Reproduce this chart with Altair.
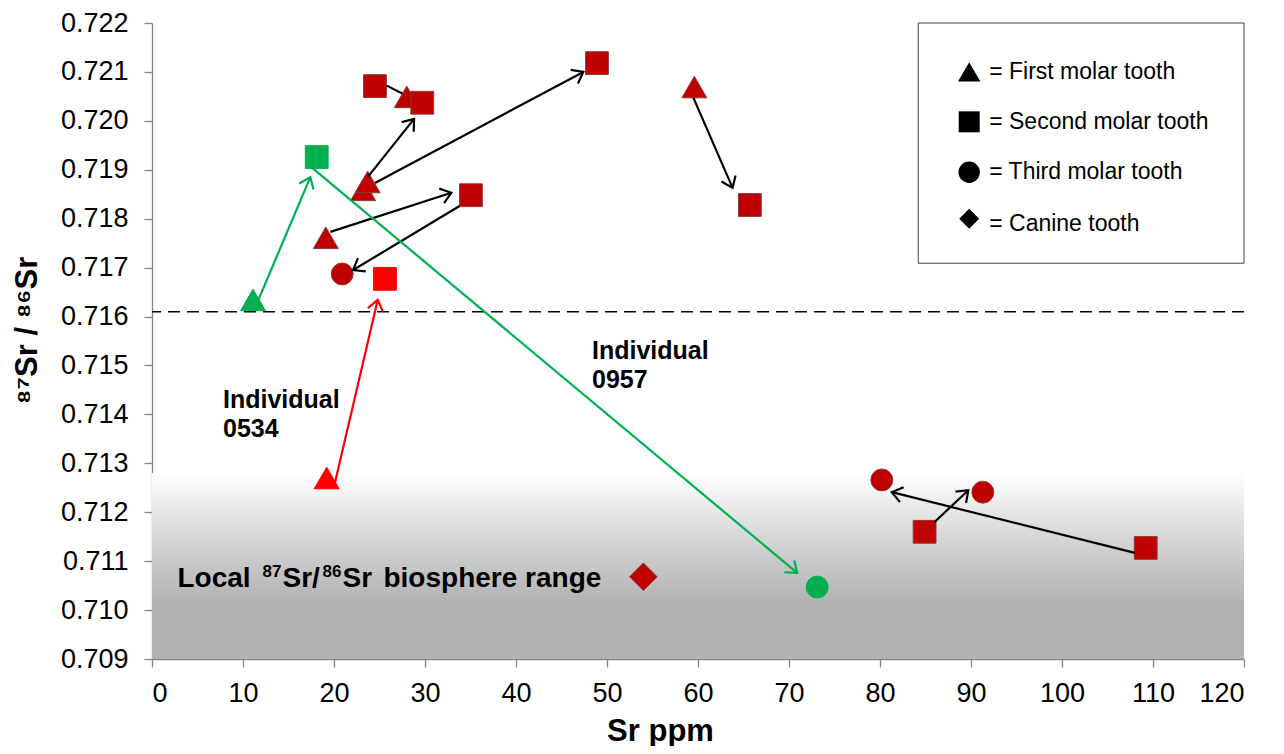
import math
import altair as alt
import pandas as pd

# ---------------- data ----------------
sr_ppm = [24.5, 28.0, 29.7, 48.9, 23.2, 23.7, 19.1, 35.05, 20.9,
          25.6, 18.1, 11.1, 19.2, 73.1,
          54.0, 59.6, 65.7, 80.2, 91.3, 84.9, 109.2]
sr_ratio = [0.72071, 0.72049, 0.72037, 0.72118, 0.71859, 0.71875, 0.71761, 0.71848, 0.71687,
            0.71677, 0.71926, 0.71634, 0.71270, 0.71047,
            0.71068, 0.72069, 0.71828, 0.71266, 0.71241, 0.71160, 0.71127]
tooth = ["Second molar", "First molar", "Second molar", "Second molar", "First molar",
         "First molar", "First molar", "Second molar", "Third molar",
         "Second molar", "Second molar", "First molar", "First molar", "Third molar",
         "Canine", "First molar", "Second molar", "Third molar", "Third molar",
         "Second molar", "Second molar"]
individual = ["Other"] * 9 + ["0534", "0957", "0957", "0534", "0957"] + ["Other"] * 7

arrow_x_start = [25.8, 23.7, 24.5, 19.6, 33.8, 11.6, 17.6, 20.1, 59.5, 86.0, 108.0]
arrow_y_start = [0.72072, 0.71885, 0.71873, 0.71773, 0.71826, 0.71630, 0.71904, 0.71260, 0.72047, 0.71180, 0.71117]
arrow_x_end = [27.5, 28.8, 47.4, 32.9, 22.1, 17.4, 70.9, 24.8, 63.8, 89.7, 81.3]
arrow_y_end = [0.72056, 0.72004, 0.72100, 0.71853, 0.71695, 0.71885, 0.71076, 0.71634, 0.71863, 0.71245, 0.71241]
arrow_individual = ["Other"] * 5 + ["0957", "0957", "0534"] + ["Other"] * 3
arrow_has_head = [False] + [True] * 10

biosphere_range = [0.709, 0.7128]
local_threshold = [0.7161]

legend_teeth = ["First molar", "Second molar", "Third molar", "Canine"]
legend_labels = ["= First molar tooth", "= Second molar tooth", "= Third molar tooth", "= Canine tooth"]

individual_domain = ["Other", "0534", "0957"]
tooth_domain = ["First molar", "Second molar", "Third molar", "Canine"]

individual_labels = ["Individual\n0534", "Individual\n0957"]
local_label_parts = ["Local", "87", "Sr/", "86", "Sr", "biosphere range"]
local_label_is_sup = [False, True, False, True, False, False]

# ---------------- layout ----------------
W, H = 1092, 636
X_MIN, X_MAX = 0, 120
Y_MIN, Y_MAX = 0.709, 0.722
SX = W / (X_MAX - X_MIN)
SY = H / (Y_MAX - Y_MIN)
FONT = "Liberation Sans"
SHAPES = ["triangle-up", "square", "circle", "diamond"]

points = pd.DataFrame({"sr": sr_ppm, "ratio": sr_ratio, "tooth": tooth, "individual": individual})

angles = []
for x0, y0, x1, y1 in zip(arrow_x_start, arrow_y_start, arrow_x_end, arrow_y_end):
    angles.append(math.degrees(math.atan2(-(y1 - y0) * SY, (x1 - x0) * SX)) % 360)
arrows = pd.DataFrame({"x0": arrow_x_start, "y0": arrow_y_start, "x1": arrow_x_end,
                       "y1": arrow_y_end, "arrow_of": arrow_individual,
                       "head": arrow_has_head, "angle": angles})

xs = alt.Scale(domain=[X_MIN, X_MAX], nice=False, zero=False)
ys = alt.Scale(domain=[Y_MIN, Y_MAX], nice=False, zero=False)

x_axis = alt.Axis(values=list(range(0, 121, 10)), title="Sr ppm", titleX=508,
                  titlePadding=10, labelPadding=13)
y_axis = alt.Axis(values=[round(0.709 + i * 0.001, 3) for i in range(14)], format=".3f",
                  title="⁸⁷Sr / ⁸⁶Sr", titleY=307, titleX=-109, titleBaseline="bottom",
                  labelPadding=16)

# gradient local range
bio_df = pd.DataFrame({"lo": [biosphere_range[0]], "hi": [biosphere_range[1]],
                       "xa": [X_MIN], "xb": [X_MAX]})
gradient = alt.Chart(bio_df).mark_rect(
    color=alt.Gradient(gradient="linear",
                       stops=[alt.GradientStop(color="#ffffff", offset=0),
                              alt.GradientStop(color="#d6d6d6", offset=0.35),
                              alt.GradientStop(color="#b2b2b2", offset=0.7),
                              alt.GradientStop(color="#b2b2b2", offset=1)],
                       x1=0, x2=0, y1=0, y2=1)
).encode(
    x=alt.X("xa:Q", scale=xs, axis=x_axis),
    x2="xb:Q",
    y=alt.Y("hi:Q", scale=ys, axis=y_axis),
    y2="lo:Q",
)

thr_df = pd.DataFrame({"t": local_threshold})
dashed = alt.Chart(thr_df).mark_rule(color="#000000", strokeDash=[12, 7], strokeWidth=1.5).encode(
    y=alt.Y("t:Q", scale=ys)
)

# legend box
box_df = pd.DataFrame({"xa": [84.2], "xb": [120], "ya": [0.71709], "yb": [0.722]})
legend_box = alt.Chart(box_df).mark_rect(fill="#ffffff", stroke="#404040", strokeWidth=1).encode(
    x=alt.X("xa:Q", scale=xs), x2="xb:Q", y=alt.Y("ya:Q", scale=ys), y2="yb:Q"
)
leg_df = pd.DataFrame({"tooth": legend_teeth, "label": legend_labels,
                       "lx": [89.8] * 4, "tx": [92.0] * 4,
                       "ly": [0.72100, 0.71998, 0.71895, 0.71800],
                       "ty": [0.72100, 0.71998, 0.71895, 0.71789]})
legend_syms = alt.Chart(leg_df).mark_point(filled=True, opacity=1, color="#000000").encode(
    x=alt.X("lx:Q", scale=xs), y=alt.Y("ly:Q", scale=ys),
    shape=alt.Shape("tooth:N", scale=alt.Scale(domain=tooth_domain, range=SHAPES), legend=None),
    size=alt.Size("tooth:N", scale=alt.Scale(type="ordinal", domain=tooth_domain,
                  range=[500, 440, 460, 400]), legend=None),
)
legend_text = alt.Chart(leg_df).mark_text(align="left", baseline="middle", font=FONT,
                                          fontSize=23, color="#000000").encode(
    x=alt.X("tx:Q", scale=xs), y=alt.Y("ty:Q", scale=ys), text="label:N"
)

# data points
pts = alt.Chart(points).mark_point(filled=True, opacity=1, strokeWidth=1, strokeOpacity=1).encode(
    x=alt.X("sr:Q", scale=xs),
    y=alt.Y("ratio:Q", scale=ys),
    shape=alt.Shape("tooth:N", scale=alt.Scale(domain=tooth_domain, range=SHAPES), legend=None),
    size=alt.Size("tooth:N", scale=alt.Scale(type="ordinal", domain=tooth_domain,
                  range=[620, 520, 480, 760]), legend=None),
    fill=alt.Fill("individual:N", scale=alt.Scale(domain=individual_domain,
                  range=["#C00000", "#FF0000", "#00B050"]), legend=None),
    stroke=alt.Stroke("individual:N", scale=alt.Scale(domain=individual_domain,
                      range=["#8E3A3A", "#FF0000", "#00B050"]), legend=None),
)

arrow_colors = alt.Scale(domain=individual_domain, range=["#000000", "#FF0000", "#00B050"])
arrow_lines = alt.Chart(arrows).mark_rule(strokeWidth=2.2).encode(
    x=alt.X("x0:Q", scale=xs), y=alt.Y("y0:Q", scale=ys), x2="x1:Q", y2="y1:Q",
    color=alt.Color("arrow_of:N", scale=arrow_colors, legend=None)
)
CHEVRON = "M -1 -0.75 L 0 0 L -1 0.75"
arrow_heads = alt.Chart(arrows).transform_filter("datum.head").mark_point(
    shape=CHEVRON, filled=False, size=420, strokeWidth=2.2, opacity=1
).encode(
    x=alt.X("x1:Q", scale=xs), y=alt.Y("y1:Q", scale=ys),
    angle=alt.Angle("angle:Q", scale=None),
    color=alt.Color("arrow_of:N", scale=arrow_colors, legend=None)
)

# annotations
ann_df = pd.DataFrame({"x": [7.8, 48.35], "y": [0.71413, 0.71513], "label": individual_labels})
ann = alt.Chart(ann_df).mark_text(align="left", baseline="alphabetic", font=FONT, fontSize=25,
                                  fontWeight="bold", lineBreak="\n", lineHeight=29,
                                  color="#000000").encode(
    x=alt.X("x:Q", scale=xs), y=alt.Y("y:Q", scale=ys), text="label:N"
)

# "Local 87Sr/86Sr biosphere range" built from pieces so the isotopes are superscripts
part_offsets = [0, 85, 105, 145, 165, 206]
local_layers = []
for part, sup, off in zip(local_label_parts, local_label_is_sup, part_offsets):
    pdf = pd.DataFrame({"x": [2.8], "y": [0.71047], "label": [part]})
    local_layers.append(
        alt.Chart(pdf).mark_text(align="left", baseline="alphabetic", font=FONT,
                                 fontSize=17 if sup else 28, fontWeight="bold",
                                 dx=off, dy=-10 if sup else 0, color="#000000").encode(
            x=alt.X("x:Q", scale=xs), y=alt.Y("y:Q", scale=ys), text="label:N"
        )
    )

chart = alt.layer(
    gradient, dashed, legend_box, legend_syms, legend_text, pts, arrow_lines, arrow_heads, ann,
    *local_layers
).resolve_scale(
    color="independent", shape="independent", size="independent"
).properties(
    width=W, height=H,
    autosize=alt.AutoSizeParams(type="none"),
    padding={"left": 144, "top": 15, "right": 32, "bottom": 87},
).configure_view(stroke=None).configure_axis(
    grid=False,
    labelFont=FONT, labelFontSize=27, labelColor="#000000",
    titleFont=FONT, titleFontSize=31, titleFontWeight="bold", titleColor="#000000",
    domainColor="#868686", tickColor="#868686", tickSize=8, domainWidth=1.3, tickWidth=1.3,
)

chart.save("out.html", embed_options={"renderer": "svg", "actions": False})
